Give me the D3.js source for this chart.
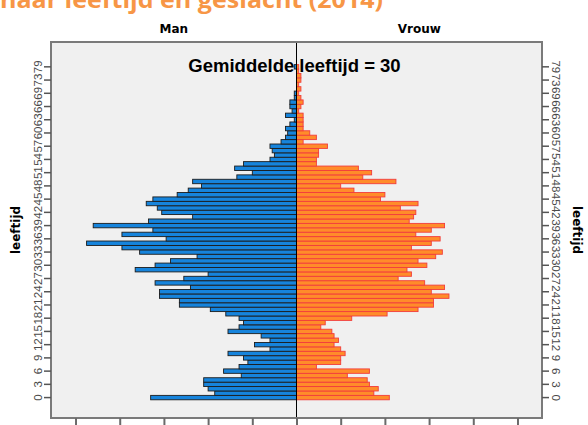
<!DOCTYPE html>
<html>
<head>
<meta charset="utf-8">
<script src="https://cdn.jsdelivr.net/npm/d3@7"></script>
<style>
  body { margin: 0; background: #fff; }
  svg { display: block; }
</style>
</head>
<body>
<div id="chart"></div>
<script>
// age categories (only ages present in the data, so the axis skips a few near the top)
const ages = [
  0, 1, 2, 3, 4, 5, 6, 7, 8, 9, 10, 11, 12, 13, 14, 15, 16, 17, 18, 19,
  20, 21, 22, 23, 24, 25, 26, 27, 28, 29, 30, 31, 32, 33, 34, 35, 36, 37, 38, 39,
  40, 41, 42, 43, 44, 45, 46, 47, 48, 49, 50, 51, 52, 53, 54, 55, 56, 57, 58, 59,
  60, 61, 62, 63, 64, 65, 66, 67, 68, 69, 70, 72, 73, 75, 77, 79, 82
];

// counts per age
const man = [
  66, 37, 40, 42, 42, 25, 33, 26, 22, 24, 31, 12, 19, 12, 16, 31, 26, 24, 26, 32,
  39, 53, 53, 62, 62, 48, 64, 51, 40, 73, 64, 57, 45, 71, 79, 95, 59, 79, 65, 92,
  67, 47, 61, 63, 68, 65, 54, 49, 43, 47, 27, 20, 28, 24, 12, 10, 11, 12, 7, 5,
  4, 5, 3, 1, 5, 2, 3, 3, 1, 1, 0, 0, 0, 0, 0, 1, 0
];

const vrouw = [
  42, 35, 37, 33, 32, 23, 33, 9, 20, 20, 22, 20, 17, 19, 17, 16, 11, 13, 25, 41,
  55, 62, 62, 69, 61, 67, 58, 46, 52, 50, 59, 55, 63, 66, 52, 61, 65, 54, 61, 67,
  51, 53, 54, 47, 55, 38, 40, 26, 20, 45, 30, 34, 28, 9, 9, 10, 10, 14, 3, 9,
  6, 3, 3, 3, 3, 1, 2, 3, 2, 1, 2, 1, 2, 2, 1, 1, 0
];

const xTicks = [-100, -80, -60, -40, -20, 0, 20, 40, 60, 80, 100];
const gemiddelde = 30;

const width = 588;
const height = 425;
const plot = { left: 51, right: 542, top: 42, bottom: 418 };

const svg = d3.select("#chart").append("svg")
  .attr("width", width)
  .attr("height", height);

// title (top part is cut off in the original picture)
svg.append("text")
  .attr("x", 0)
  .attr("y", 8)
  .attr("textLength", 383)
  .attr("lengthAdjust", "spacingAndGlyphs")
  .style("font-family", "'Open Sans', sans-serif")
  .style("font-weight", "bold")
  .style("font-size", "23px")
  .style("fill", "#f79646")
  .text("naar leeftijd en geslacht (2014)");

const x = d3.scaleLinear()
  .domain([-111.1, 111.1])
  .range([plot.left, plot.right]);

const y = d3.scaleBand()
  .domain(ages)
  .range([plot.bottom, plot.top])
  .paddingInner(0)
  .paddingOuter(4.13);

const x0 = x(0);

// panel background
svg.append("rect")
  .attr("x", plot.left)
  .attr("y", plot.top)
  .attr("width", plot.right - plot.left)
  .attr("height", plot.bottom - plot.top)
  .attr("fill", "#f0f0f0");

const rows = ages.map((a, i) => ({ age: a, m: man[i], v: vrouw[i] }));

// male bars
svg.append("g")
  .selectAll("rect")
  .data(rows.filter(d => d.m > 0))
  .join("rect")
  .attr("x", d => x(-d.m))
  .attr("y", d => y(d.age))
  .attr("width", d => x0 - x(-d.m))
  .attr("height", y.bandwidth())
  .attr("fill", "#1684dc")
  .attr("stroke", "#1c1c1c")
  .attr("stroke-width", 0.9);

// female bars
svg.append("g")
  .selectAll("rect")
  .data(rows.filter(d => d.v > 0))
  .join("rect")
  .attr("x", x0)
  .attr("y", d => y(d.age))
  .attr("width", d => x(d.v) - x0)
  .attr("height", y.bandwidth())
  .attr("fill", "#ff8c2a")
  .attr("stroke", "#f23c3c")
  .attr("stroke-width", 0.9);

// centre line
svg.append("line")
  .attr("x1", x0).attr("x2", x0)
  .attr("y1", plot.top).attr("y2", plot.bottom)
  .attr("stroke", "#000")
  .attr("stroke-width", 1);

// panel border
svg.append("rect")
  .attr("x", plot.left)
  .attr("y", plot.top)
  .attr("width", plot.right - plot.left)
  .attr("height", plot.bottom - plot.top)
  .attr("fill", "none")
  .attr("stroke", "#7a7a7a")
  .attr("stroke-width", 2);

// y axes: label every third category
const shown = ages.filter((a, i) => i % 3 === 0);

const leftAxis = svg.append("g")
  .attr("transform", `translate(${plot.left},0)`)
  .call(d3.axisLeft(y).tickValues(shown).tickSize(7).tickFormat(""));
const rightAxis = svg.append("g")
  .attr("transform", `translate(${plot.right},0)`)
  .call(d3.axisRight(y).tickValues(shown).tickSize(7).tickFormat(""));
[leftAxis, rightAxis].forEach(g => {
  g.select(".domain").remove();
  g.selectAll("line").attr("stroke", "#555").attr("stroke-width", 1.5);
});

svg.append("g").selectAll("text")
  .data(shown)
  .join("text")
  .attr("transform", d => `translate(${plot.left - 13},${y(d) + y.bandwidth() / 2}) rotate(-90)`)
  .attr("text-anchor", "middle")
  .attr("dy", "0.35em")
  .style("font-family", "'Liberation Sans', Arial, sans-serif")
  .style("font-size", "11.5px")
  .style("fill", "#4a4a4a")
  .text(d => d);

svg.append("g").selectAll("text")
  .data(shown)
  .join("text")
  .attr("transform", d => `translate(${plot.right + 14},${y(d) + y.bandwidth() / 2}) rotate(90)`)
  .attr("text-anchor", "middle")
  .attr("dy", "0.35em")
  .style("font-family", "'Liberation Sans', Arial, sans-serif")
  .style("font-size", "11.5px")
  .style("fill", "#4a4a4a")
  .text(d => d);

// bottom axis (labels fall below the picture)
const bottomAxis = svg.append("g")
  .attr("transform", `translate(0,${plot.bottom})`)
  .call(d3.axisBottom(x).tickValues(xTicks).tickSize(9).tickFormat(""));
bottomAxis.select(".domain").remove();
bottomAxis.selectAll("line").attr("stroke", "#6a6a6a").attr("stroke-width", 2);

// axis titles
const boldFont = "'DejaVu Sans', sans-serif";
svg.append("text")
  .attr("transform", `translate(16,230) rotate(-90)`)
  .attr("text-anchor", "middle")
  .attr("dy", "0.35em")
  .style("font-family", boldFont)
  .style("font-weight", "bold")
  .style("font-size", "12px")
  .text("leeftijd");

svg.append("text")
  .attr("transform", `translate(577,230) rotate(90)`)
  .attr("text-anchor", "middle")
  .attr("dy", "0.35em")
  .style("font-family", boldFont)
  .style("font-weight", "bold")
  .style("font-size", "12px")
  .text("leeftijd");

svg.append("text")
  .attr("x", (plot.left + x0) / 2)
  .attr("y", 33)
  .attr("text-anchor", "middle")
  .style("font-family", boldFont)
  .style("font-weight", "bold")
  .style("font-size", "12px")
  .text("Man");

svg.append("text")
  .attr("x", (x0 + plot.right) / 2)
  .attr("y", 33)
  .attr("text-anchor", "middle")
  .style("font-family", boldFont)
  .style("font-weight", "bold")
  .style("font-size", "12px")
  .text("Vrouw");

svg.append("text")
  .attr("x", 294.5)
  .attr("y", 72)
  .attr("text-anchor", "middle")
  .style("font-family", "'Liberation Sans', Arial, sans-serif")
  .style("font-weight", "bold")
  .style("font-size", "18.5px")
  .text("Gemiddelde leeftijd = " + gemiddelde);
</script>
</body>
</html>
